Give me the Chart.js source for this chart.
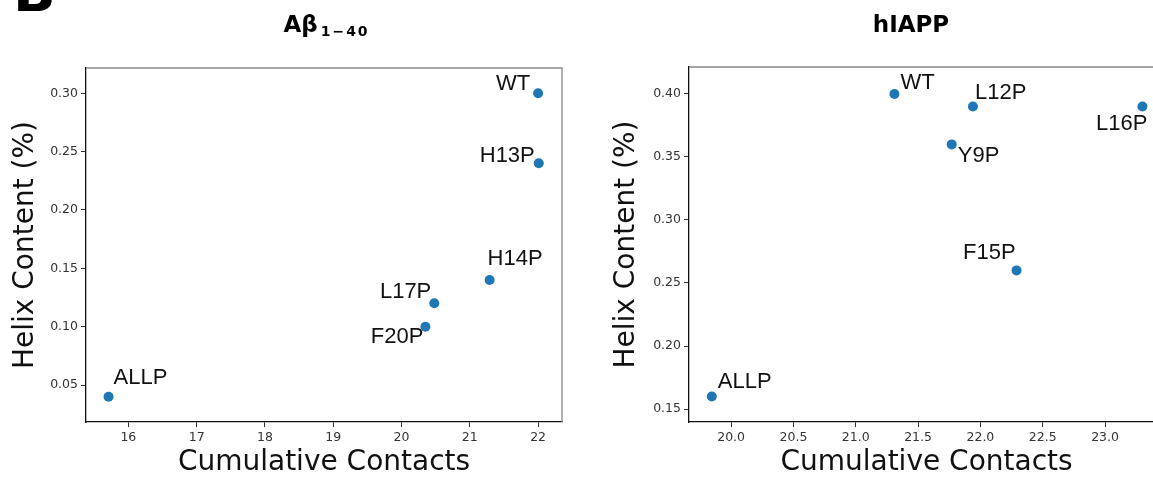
<!DOCTYPE html>
<html>
<head>
<meta charset="utf-8">
<script src="https://cdn.jsdelivr.net/npm/chart.js@4/dist/chart.umd.min.js"></script>
<style>
  html, body { margin: 0; padding: 0; background: #fff; }
  body { width: 1153px; height: 481px; overflow: hidden; position: relative; }
  .panel { position: absolute; top: 0; width: 600px; height: 481px; }
</style>
</head>
<body>
<div class="panel" style="left:0"><canvas id="abChart"></canvas></div>
<div class="panel" style="left:600px"><canvas id="iappChart"></canvas></div>
<script>
/* ==============================
   DATA
============================== */
var abNames = ["WT", "H13P", "H14P", "L17P", "F20P", "ALLP"];
var abContacts = [22.0, 22.01, 21.29, 20.48, 20.35, 15.71];
var abHelix = [0.30, 0.24, 0.14, 0.12, 0.10, 0.04];

var iappNames = ["WT", "L12P", "L16P", "Y9P", "F15P", "ALLP"];
var iappContacts = [21.31, 21.94, 23.30, 21.77, 22.29, 19.845];
var iappHelix = [0.40, 0.39, 0.39, 0.36, 0.26, 0.16];

var abXTicks = [16, 17, 18, 19, 20, 21, 22];
var abYTicks = [0.05, 0.10, 0.15, 0.20, 0.25, 0.30];
var iappXTicks = [20.0, 20.5, 21.0, 21.5, 22.0, 22.5, 23.0];
var iappYTicks = [0.15, 0.20, 0.25, 0.30, 0.35, 0.40];

var xTitle = "Cumulative Contacts";
var yTitle = "Helix Content (%)";

/* ==============================
   PLUGINS
============================== */
// point labels next to each marker
var pointLabelPlugin = {
    id: "pointLabels",
    afterDatasetsDraw: function (chart, args, opts) {
        var ctx = chart.ctx;
        var meta = chart.getDatasetMeta(0);
        ctx.save();
        ctx.font = "22px 'Liberation Sans', Arial, sans-serif";
        ctx.fillStyle = "#111";
        ctx.textBaseline = "middle";
        meta.data.forEach(function (pt, i) {
            var o = opts.offsets[i];
            ctx.textAlign = o[2];
            ctx.fillText(opts.names[i], pt.x + o[0], pt.y + o[1]);
        });
        ctx.restore();
    }
};

// top/right spines + panel title
var framePlugin = {
    id: "frame",
    afterDraw: function (chart, args, opts) {
        var ctx = chart.ctx;
        var a = chart.chartArea;
        ctx.save();
        ctx.strokeStyle = "#888";
        ctx.lineWidth = 1.3;
        ctx.beginPath();
        ctx.moveTo(a.left, a.top);
        ctx.lineTo(a.right, a.top);
        ctx.lineTo(a.right, a.bottom);
        ctx.stroke();

        ctx.fillStyle = "#000";
        ctx.textBaseline = "alphabetic";
        ctx.textAlign = "left";
        ctx.font = "bold 23px 'DejaVu Sans', sans-serif";
        var w = ctx.measureText(opts.title).width;
        var subW = 0;
        if (opts.sub) {
            ctx.font = "bold 14px 'DejaVu Sans', sans-serif";
            ctx.letterSpacing = "2px";
            subW = ctx.measureText(opts.sub).width + 2;
            ctx.letterSpacing = "0px";
        }
        var x0 = opts.titleX - (w + subW) / 2;
        ctx.font = "bold 23px 'DejaVu Sans', sans-serif";
        ctx.fillText(opts.title, x0, 32);
        if (opts.sub) {
            ctx.font = "bold 14px 'DejaVu Sans', sans-serif";
            ctx.letterSpacing = "2px";
            ctx.fillText(opts.sub, x0 + w + 3, 36);
            ctx.letterSpacing = "0px";
        }
        if (opts.letter) {
            ctx.font = "bold 56px 'DejaVu Sans', sans-serif";
            ctx.fillText(opts.letter, 13, 11);
        }
        ctx.restore();
    }
};

/* ==============================
   BUILD CHARTS
============================== */
function axis(ticks, min, max, decimals, title, titlePad, size, horizontal) {
    return {
        type: "linear",
        min: min,
        max: max,
        afterBuildTicks: function (s) {
            s.ticks = ticks.map(function (v) { return { value: v }; });
        },
        afterFit: function (s) {
            if (horizontal) s.height = size;
            else s.width = size;
        },
        border: { display: true, color: "#111", width: 1.3 },
        grid: {
            drawOnChartArea: false,
            drawTicks: true,
            tickLength: 5,
            tickColor: "#333",
            tickWidth: 1
        },
        ticks: {
            padding: 3,
            color: "#333",
            font: { family: "'DejaVu Sans', sans-serif", size: 12.5 },
            callback: function (v) { return Number(v).toFixed(decimals); }
        },
        title: {
            display: true,
            text: title,
            color: "#111",
            font: { family: "'DejaVu Sans', sans-serif", size: 28 },
            padding: titlePad
        }
    };
}

function makeChart(id, xs, ys, names, offsets, cfg) {
    var pts = xs.map(function (x, i) { return { x: x, y: ys[i] }; });
    return new Chart(document.getElementById(id), {
        type: "scatter",
        data: {
            datasets: [{
                data: pts,
                backgroundColor: "#1f77b4",
                borderWidth: 0,
                pointRadius: 5,
                pointHoverRadius: 5
            }]
        },
        options: {
            responsive: true,
            maintainAspectRatio: false,
            animation: false,
            events: [],
            layout: { padding: { top: cfg.top, right: cfg.right, left: 0, bottom: 0 } },
            scales: {
                x: axis(cfg.xTicks, cfg.xMin, cfg.xMax, cfg.xDec, xTitle, { top: 0, bottom: 1 }, 59, true),
                y: axis(cfg.yTicks, cfg.yMin, cfg.yMax, 2, yTitle, { top: cfg.yPad, bottom: 0 }, cfg.yWidth, false)
            },
            plugins: {
                legend: { display: false },
                tooltip: { enabled: false },
                pointLabels: { names: names, offsets: offsets },
                frame: { title: cfg.title, sub: cfg.sub, titleX: cfg.titleX, letter: cfg.letter }
            }
        },
        plugins: [pointLabelPlugin, framePlugin]
    });
}

document.addEventListener("DOMContentLoaded", function () {
    makeChart("abChart", abContacts, abHelix, abNames,
        [[-8, -9, "right"], [-4, -7, "right"], [-2, -21, "left"],
         [-3, -11, "right"], [-2, 10, "right"], [5, -19, "left"]],
        {
            top: 68, right: 38, yWidth: 86, yPad: 9,
            xMin: 15.38, xMax: 22.35, xDec: 0, xTicks: abXTicks,
            yMin: 0.0183, yMax: 0.3217, yTicks: abYTicks,
            title: "A\u03B2", sub: "1\u221240", titleX: 326, letter: "B"
        });
    makeChart("iappChart", iappContacts, iappHelix, iappNames,
        [[6, -11, "left"], [2, -14, "left"], [5, 17, "right"],
         [6, 12, "left"], [-1, -17, "right"], [6, -14, "left"]],
        {
            top: 67, right: 36, yWidth: 89, yPad: 10,
            xMin: 19.662, xMax: 23.473, xDec: 1, xTicks: iappXTicks,
            yMin: 0.1397, yMax: 0.4214, yTicks: iappYTicks,
            title: "hIAPP", sub: "", titleX: 311, letter: ""
        });
});
</script>
</body>
</html>
